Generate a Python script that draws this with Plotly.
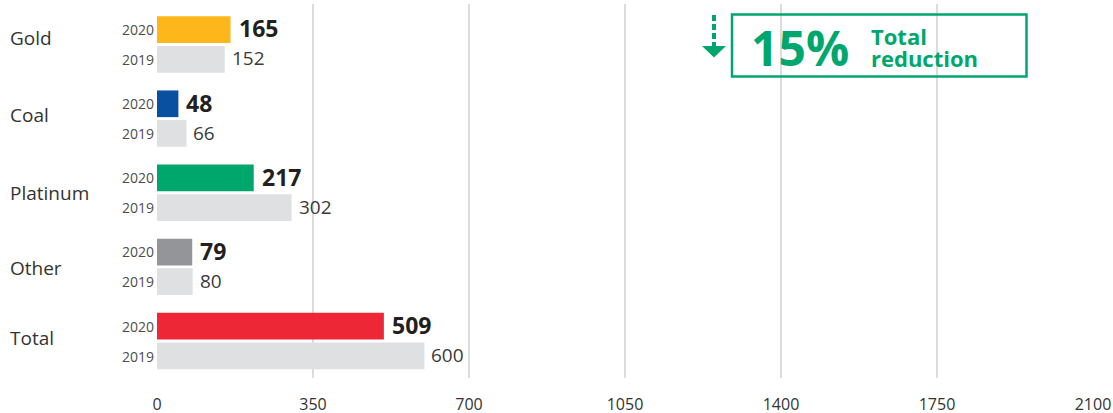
import plotly.graph_objects as go

categories = ["Gold", "Coal", "Platinum", "Other", "Total"]
values_2020 = [165, 48, 217, 79, 509]
values_2019 = [152, 66, 302, 80, 600]
colors_2020 = ["#FDB71A", "#0A50A1", "#00A76D", "#939598", "#EE2737"]
color_2019 = "#DFE0E2"
x_ticks = [0, 350, 700, 1050, 1400, 1750, 2100]
year_labels = ["2020", "2019"]
headline_pct = "15%"
headline_text = ["Total", "reduction"]

GREEN = "#00A76D"
FONT = "Open Sans, Lato, sans-serif"

# pixel -> paper helpers for decorations (plot area: x 157..1093, y 4..378)
L, R, T, B = 157, 1093, 4, 378
def px(x):
    return (x - L) / (R - L)
def py(y):
    return (B - y) / (B - T)

fig = go.Figure()
fig.add_trace(go.Bar(y=categories, x=values_2020, orientation="h",
                     marker=dict(color=colors_2020, line=dict(width=0)),
                     name="2020", hoverinfo="x+y"))
fig.add_trace(go.Bar(y=categories, x=values_2019, orientation="h",
                     marker=dict(color=color_2019, line=dict(width=0)),
                     name="2019", hoverinfo="x+y"))

ann = []
label_shift = [6, 4, 0, -1, 3]
for i, c in enumerate(categories):
    ann.append(dict(x=px(8), xref="paper", y=c, yref="y", text=c, showarrow=False,
                    xanchor="left", yanchor="middle", yshift=label_shift[i],
                    font=dict(family=FONT, size=19, color="#333333")))
    for j, (yl, sh) in enumerate(zip(year_labels, [15, -15])):
        ann.append(dict(x=0, xref="paper", y=c, yref="y", text=yl, showarrow=False,
                        xanchor="right", yanchor="middle", xshift=-1, yshift=sh,
                        font=dict(family=FONT, size=14, color="#4d4d4d")))
    ann.append(dict(x=values_2020[i], xref="x", y=c, yref="y", text=f"<b>{values_2020[i]}</b>",
                    showarrow=False, xanchor="left", yanchor="middle", xshift=6, yshift=16,
                    font=dict(family=FONT, size=23, color="#231F20")))
    ann.append(dict(x=values_2019[i], xref="x", y=c, yref="y", text=str(values_2019[i]),
                    showarrow=False, xanchor="left", yanchor="middle", xshift=5, yshift=-14,
                    font=dict(family=FONT, size=19, color="#3a3a3a")))

# headline box texts
ann.append(dict(x=px(749), y=py(47), xref="paper", yref="paper", text=f"<b>{headline_pct}</b>",
                showarrow=False, xanchor="left", yanchor="middle",
                font=dict(family=FONT, size=48, color=GREEN)))
ann.append(dict(x=px(869), y=py(35), xref="paper", yref="paper", text=f"<b>{headline_text[0]}</b>",
                showarrow=False, xanchor="left", yanchor="middle", height=21, valign="middle",
                font=dict(family=FONT, size=22, color=GREEN)))
ann.append(dict(x=px(869), y=py(57), xref="paper", yref="paper", text=f"<b>{headline_text[1]}</b>",
                showarrow=False, xanchor="left", yanchor="middle", height=21, valign="middle",
                font=dict(family=FONT, size=22, color=GREEN)))

shapes = [
    dict(type="rect", xref="paper", yref="paper", x0=px(732), x1=px(1026.5), y0=py(76.5), y1=py(14.5),
         line=dict(color=GREEN, width=2.5), fillcolor="rgba(0,0,0,0)"),
    dict(type="line", xref="paper", yref="paper", x0=px(714), x1=px(714), y0=py(15), y1=py(46),
         line=dict(color=GREEN, width=4, dash="6px,3px")),
    dict(type="path", xref="paper", yref="paper",
         path=f"M {px(702)},{py(46)} L {px(726)},{py(46)} L {px(714)},{py(57.5)} Z",
         fillcolor=GREEN, line=dict(width=0)),
]

fig.update_layout(
    width=1113, height=413,
    margin=dict(l=L, r=1113 - R, t=T, b=413 - B, pad=0, autoexpand=False),
    paper_bgcolor="white", plot_bgcolor="white",
    barmode="group", bargap=0.2, bargroupgap=0.1,
    showlegend=False,
    annotations=ann, shapes=shapes,
    xaxis=dict(range=[0, 2100], tickvals=x_ticks, ticktext=[str(v) for v in x_ticks],
               showgrid=True, gridcolor="#DCDCDC", gridwidth=1.5, automargin=False,
               zeroline=True, zerolinecolor="rgba(0,0,0,0)", zerolinewidth=1,
               showline=False, ticks="outside", ticklen=12, tickcolor="rgba(0,0,0,0)",
               tickfont=dict(family=FONT, size=16, color="#333333"), fixedrange=True),
    yaxis=dict(range=[4.499, -0.546], showticklabels=False, showgrid=False, automargin=False,
               zeroline=False, showline=False, ticks="", fixedrange=True),
)

fig.write_html("out.html", config={"displayModeBar": False},
               post_script="document.body.style.margin='0';document.body.style.padding='0';document.body.style.overflow='hidden';")
